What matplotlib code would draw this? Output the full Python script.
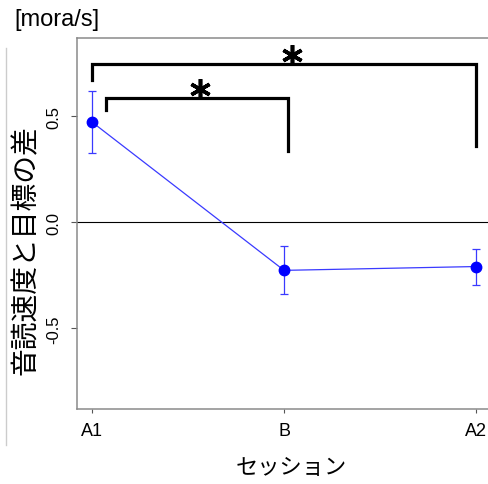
import numpy as np
import matplotlib.pyplot as plt
from matplotlib.lines import Line2D

plt.rcParams['font.family'] = ['Liberation Sans', 'Noto Sans CJK JP', 'DejaVu Sans']

sessions = ['A1', 'B', 'A2']
mean_diff = [0.472, -0.226, -0.208]
err = [0.146, 0.113, 0.085]

# significance brackets: (x_left, x_right, height, left leg end, right leg end, star x)
brackets = [
    (1.0, 3.0, 0.745, 0.67, 0.36, 2.04),
    (1.07, 2.02, 0.585, 0.53, 0.335, 1.56),
]

fig = plt.figure(figsize=[4.88, 4.85], dpi=100)
ax = fig.add_axes([0.158, 0.1546, 0.86, 0.765])

x = np.arange(1, len(sessions) + 1)
ax.axhline(0, color='black', linewidth=0.8)
ax.errorbar(x, mean_diff, yerr=err, color='#3a3aff', linewidth=0.9,
            elinewidth=0.9, capsize=2.8, capthick=0.9, marker='o',
            markersize=7.5, markerfacecolor='#0000ff', markeredgecolor='#0000ff')

for xl, xr, h, yl, yr, xs in brackets:
    ax.plot([xl, xl, xr, xr], [yl, h, h, yr], color='black', linewidth=2.3,
            solid_joinstyle='miter')
    ax.plot([xs], [h + 0.045], marker=(6, 2, 0), markersize=15,
            markeredgewidth=2.6, color='black')

ax.set_xlim(0.92, 3.11)
ax.set_ylim(-0.88, 0.87)
ax.set_xticks(x)
ax.set_xticklabels(sessions, fontsize=13)
ax.set_yticks([-0.5, 0.0, 0.5])
ax.set_yticklabels(['-0.5', '0.0', '0.5'], fontsize=12, rotation=90, va='center')
ax.tick_params(axis='both', direction='out', width=0.8, color='#555555')
ax.tick_params(axis='x', length=3, pad=6)
ax.tick_params(axis='y', length=4.5, pad=7)

ax.spines['right'].set_visible(False)
for side in ['left', 'bottom', 'top']:
    ax.spines[side].set_color('#8a8a8a')
    ax.spines[side].set_linewidth(1.1)

fig.text(0.596, 0.037, 'セッション', fontsize=16, ha='center', va='center',
         family=['Noto Sans CJK JP'])
fig.text(0.053, 0.484, '音読速度と目標の差', fontsize=20, rotation=90,
         ha='center', va='center', family=['Noto Sans CJK JP'])
fig.text(0.03, 0.959, '[mora/s]', fontsize=17, ha='left', va='center')

# thin rule at the left margin
fig.add_artist(Line2D([0.013, 0.013], [0.08, 0.9], color='#cccccc', linewidth=1.0))

fig.savefig('out.png', dpi=100)
